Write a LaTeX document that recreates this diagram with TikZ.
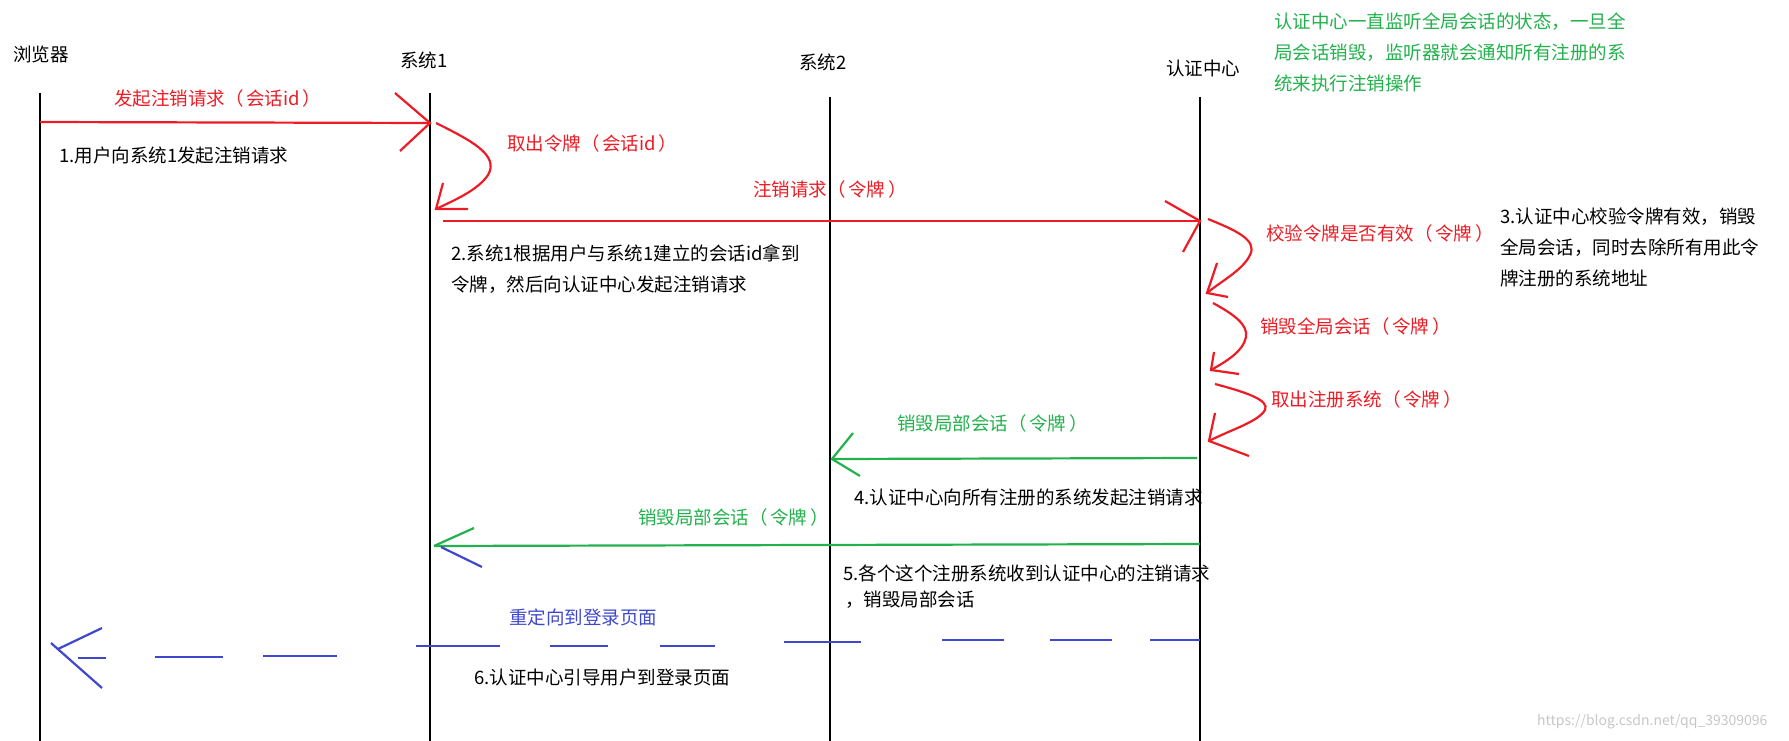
\documentclass[tikz,border=0pt]{standalone}
\usepackage{fontspec}
\setmainfont{Noto Sans CJK SC}
\definecolor{pred}{HTML}{ED1C24}
\definecolor{pgreen}{HTML}{22B14C}
\definecolor{pblue}{HTML}{3F48CC}
\newcommand\myLP{（\hspace{0.15em}}
\newcommand\myRP{\hspace{0.15em}）}
\begin{document}
\begin{tikzpicture}[x=1pt,y=-1pt,
  font=\fontsize{18.5}{22}\selectfont,
  txt/.style={anchor=west,inner sep=0pt},
  life/.style={line width=2.4pt,black},
  rl/.style={pred,line width=2.2pt},
  gl/.style={pgreen,line width=2.2pt},
  bl/.style={pblue,line width=2.2pt},
  rtxt/.style={txt,text=pred},
  gtxt/.style={txt,text=pgreen},
  btxt/.style={txt,text=pblue}]
\useasboundingbox (0,0) rectangle (1789,741);

% headers
\node[txt] (hB) at (13,54) {浏览器};
\node[txt] (hS1) at (400,60) {系统1};
\node[txt] (hS2) at (799,62) {系统2};
\node[txt] (hA) at (1166,68) {认证中心};

% lifelines
\coordinate (B0) at (40,93);   \coordinate (B1) at (40,741);
\coordinate (S10) at (430,93); \coordinate (S11) at (430,741);
\coordinate (S20) at (830,97); \coordinate (S21) at (830,741);
\coordinate (A0) at (1200,97); \coordinate (A1) at (1200,741);
\draw[life] (B0) -- (B1);
\draw[life] (S10) -- (S11);
\draw[life] (S20) -- (S21);
\draw[life] (A0) -- (A1);

% green note
\node[gtxt] (note1) at (1274,22) {认证中心一直监听全局会话的状态，一旦全};
\node[gtxt] (note2) at (1274,53) {局会话销毁，监听器就会通知所有注册的系};
\node[gtxt] (note3) at (1274,83) {统来执行注销操作};

% step 1
\node[rtxt] (l1) at (114,98) {发起注销请求\myLP 会话id\myRP};
\coordinate (a1s) at (40,122);
\coordinate (a1t) at (430,123);
\draw[rl] (a1s) -- (a1t);
\draw[rl] (a1t) ++(-35,-30) -- (a1t) -- ++(-30,28);
\node[txt] (t1) at (59,155) {1.用户向系统1发起注销请求};

% self loop sys1
\node[rtxt] (l2) at (507,143) {取出令牌\myLP 会话id\myRP};
\coordinate (c1s) at (436,123);
\coordinate (c1t) at (436,209);
\draw[rl] (c1s) .. controls (470,140) and (500,155) .. (488,175)
               .. controls (478,190) and (455,200) .. (c1t);
\draw[rl] (c1t) ++(7,-26) -- (c1t) -- ++(32,0);

% request to auth
\node[rtxt] (l3) at (753,189) {注销请求\myLP 令牌\myRP};
\coordinate (a2s) at (443,221);
\coordinate (a2t) at (1200,221);
\draw[rl] (a2s) -- (a2t);
\draw[rl] (a2t) ++(-35,-20) -- (a2t) -- ++(-17,31);
\node[txt] (t2a) at (451,253) {2.系统1根据用户与系统1建立的会话id拿到};
\node[txt] (t2b) at (451,285) {令牌，然后向认证中心发起注销请求};

% auth loops
\node[rtxt] (l4) at (1266,233) {校验令牌是否有效\myLP 令牌\myRP};
\coordinate (d1s) at (1208,219);
\coordinate (d1t) at (1207,293);
\draw[rl] (d1s) .. controls (1235,230) and (1258,240) .. (1250,255)
               .. controls (1243,270) and (1220,282) .. (d1t);
\draw[rl] (d1t) ++(10,-30) -- (d1t) -- ++(21,4);

\node[txt] (t3a) at (1500,217) {3.认证中心校验令牌有效，销毁};
\node[txt] (t3b) at (1500,248) {全局会话，同时去除所有用此令};
\node[txt] (t3c) at (1500,278) {牌注册的系统地址};

\node[rtxt] (l5) at (1260,326) {销毁全局会话\myLP 令牌\myRP};
\coordinate (d2s) at (1213,303);
\coordinate (d2t) at (1211,370);
\draw[rl] (d2s) .. controls (1235,315) and (1248,325) .. (1246,337)
               .. controls (1243,352) and (1225,362) .. (d2t);
\draw[rl] (d2t) ++(3,-18) -- (d2t) -- ++(28,4);

\node[rtxt] (l6) at (1271,399) {取出注册系统\myLP 令牌\myRP};
\coordinate (d3s) at (1215,384);
\coordinate (d3t) at (1209,441);
\draw[rl] (d3s) .. controls (1245,392) and (1270,400) .. (1265,410)
               .. controls (1258,422) and (1230,430) .. (d3t);
\draw[rl] (d3t) ++(6,-28) -- (d3t) -- ++(40,15);

% green to sys2
\node[gtxt] (l7) at (897,423) {销毁局部会话\myLP 令牌\myRP};
\coordinate (g1s) at (1197,458);
\coordinate (g1t) at (832,459);
\draw[gl] (g1s) -- (g1t);
\draw[gl] (g1t) ++(21,-26) -- (g1t) -- ++(28,17);
\node[txt] (t4) at (854,498) {4.认证中心向所有注册的系统发起注销请求};

% green to sys1
\node[gtxt] (l8) at (638,517) {销毁局部会话\myLP 令牌\myRP};
\coordinate (g2s) at (1200,544);
\coordinate (g2t) at (434,546);
\draw[gl] (g2s) -- (g2t);
\draw[gl] (g2t) -- ++(40,-18);
\draw[bl] (441,547) -- (482,567);
\node[txt] (t5a) at (843,573) {5.各个这个注册系统收到认证中心的注销请求};
\node[txt] (t5b) at (845,600) {，销毁局部会话};

% blue redirect (hand-drawn dashes)
\node[btxt] (l9) at (509,617) {重定向到登录页面};
\coordinate (bs) at (1200,640);
\coordinate (bt) at (58,649);
\draw[bl] (bs) -- (1150,640);
\draw[bl] (1112,640) -- (1050,640);
\draw[bl] (1004,640) -- (942,640);
\draw[bl] (861,642) -- (784,642);
\draw[bl] (715,646) -- (660,646);
\draw[bl] (608,646) -- (550,646);
\draw[bl] (500,646) -- (416,646);
\draw[bl] (337,656) -- (263,656);
\draw[bl] (223,657) -- (155,657);
\draw[bl] (106,658) -- (78,658);
\draw[bl] (bt) -- (102,628);
\draw[bl] (51,643) -- (102,688);
\node[txt] (t6) at (474,677) {6.认证中心引导用户到登录页面};

% watermark
\node[txt,text=black!22,font=\fontsize{14}{16}\selectfont] (wm) at (1537,722) {https://blog.csdn.net/qq\_39309096};
\end{tikzpicture}
\end{document}
